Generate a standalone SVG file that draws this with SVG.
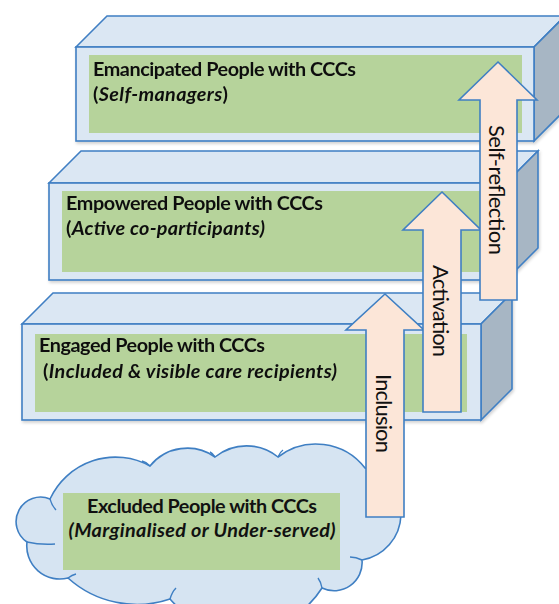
<svg xmlns="http://www.w3.org/2000/svg" width="559" height="604" viewBox="0 0 559 604">
<defs>
<style>
.face{fill:#DBE7F3;stroke:#3F7FC3;stroke-width:1.6;stroke-linejoin:miter}
.side{fill:#A7B6C4;stroke:#3F7FC3;stroke-width:1.6}
.green{fill:#B6D39B;stroke:none}
.arrow{fill:#FCE6D8;stroke:#3F7FC3;stroke-width:1.6;stroke-linejoin:miter}
.cloud{fill:#D6E4F2;stroke:#3F7FC3;stroke-width:1.6}
.curl{fill:none;stroke:#3F7FC3;stroke-width:1.4}
.t{font-family:Lato,"Open Sans","Liberation Sans",sans-serif;font-size:19.8px;font-weight:bold;fill:#111}
.i{font-style:italic}
.lab{font-family:Lato,"Open Sans","Liberation Sans",sans-serif;font-size:22px;fill:#111}
</style>
<filter id="sh" x="-5%" y="-5%" width="110%" height="115%">
<feDropShadow dx="1" dy="2" stdDeviation="1.5" flood-color="#000" flood-opacity="0.18"/>
</filter>
</defs>

<g id="box-emancipated" filter="url(#sh)">
<polygon class="face" points="76,47 107,16 565,16 534,47"/>
<polygon class="side" points="534,47 565,16 565,110 534,141"/>
<rect class="face" x="76" y="47" width="458" height="94"/>
<rect class="green" x="89" y="55" width="433" height="78"/>
<text class="t" x="93" y="76" textLength="263">Emancipated People with CCCs</text>
<text class="t" x="93" y="101" textLength="135">(<tspan class="i">Self-managers</tspan>)</text>
</g>

<g id="box-empowered" filter="url(#sh)">
<polygon class="face" points="49,183 81,151 538,151 506,183"/>
<polygon class="side" points="506,183 538,151 538,248 506,280"/>
<rect class="face" x="49" y="183" width="457" height="97"/>
<rect class="green" x="62" y="191" width="431" height="81"/>
<text class="t" x="66" y="210" textLength="257">Empowered People with CCCs</text>
<text class="t" x="66" y="235" textLength="199">(<tspan class="i">Active co-participants)</tspan></text>
</g>

<g id="box-engaged" filter="url(#sh)">
<polygon class="face" points="22,324 53,293 512,293 481,324"/>
<polygon class="side" points="481,324 512,293 512,389 481,420"/>
<rect class="face" x="22" y="324" width="459" height="96"/>
<rect class="green" x="35" y="334" width="432" height="78"/>
<text class="t" x="39" y="352" textLength="226">Engaged People with CCCs</text>
<text class="t" x="43" y="378" textLength="294">(<tspan class="i">Included &amp; visible care recipients)</tspan></text>
</g>

<g id="cloud-excluded">
<path class="cloud" d="M27,542 A24.5,24.5 0 0 1 50,499 A72,72 0 0 1 150,466 A48,48 0 0 1 215,457 A50,50 0 0 1 278,457 A62,62 0 0 1 365,468 A47,47 0 0 1 362,560 A28,28 0 0 1 322,588 A95,95 0 0 1 170,599 A103,103 0 0 1 68,578 A33,33 0 0 1 27,542 Z"/>
<path class="curl" d="M50,499 Q52,506 56,510"/>
<path class="curl" d="M150,466 Q146,462 142,461"/>
<path class="curl" d="M215,457 Q212,453 210,452"/>
<path class="curl" d="M278,457 Q280,452 283,450"/>
<path class="curl" d="M362,560 Q356,557 350,557"/>
<path class="curl" d="M322,588 Q321,582 318,578"/>
<path class="curl" d="M170,599 Q172,592 176,588"/>
<path class="curl" d="M68,578 Q72,575 76,574"/>
<path class="curl" d="M27,542 Q40,545 55,544"/>
<rect class="green" x="63" y="493" width="277" height="77"/>
<text class="t" x="202" y="513" text-anchor="middle" textLength="230">Excluded People with CCCs</text>
<text class="t i" x="202" y="537" text-anchor="middle" textLength="267">(Marginalised or Under-served)</text>
</g>

<g id="connectors">
<g id="arrow-inclusion">
<polygon class="arrow" points="385,294 424,330 404,330 404,517 366,517 366,330 346,330"/>
<text class="lab" transform="translate(376,413.5) rotate(90)" text-anchor="middle" textLength="79">Inclusion</text>
</g>
<g id="arrow-activation">
<polygon class="arrow" points="442,192 481,230 461,230 461,412 423,412 423,230 403,230"/>
<text class="lab" transform="translate(433,311) rotate(90)" text-anchor="middle" textLength="92">Activation</text>
</g>
<g id="arrow-selfreflection">
<polygon class="arrow" points="498,62 537,100 517,100 517,300 480,300 480,100 459,100"/>
<text class="lab" transform="translate(489,190) rotate(90)" text-anchor="middle" textLength="130">Self-reflection</text>
</g>
</g>
</svg>
